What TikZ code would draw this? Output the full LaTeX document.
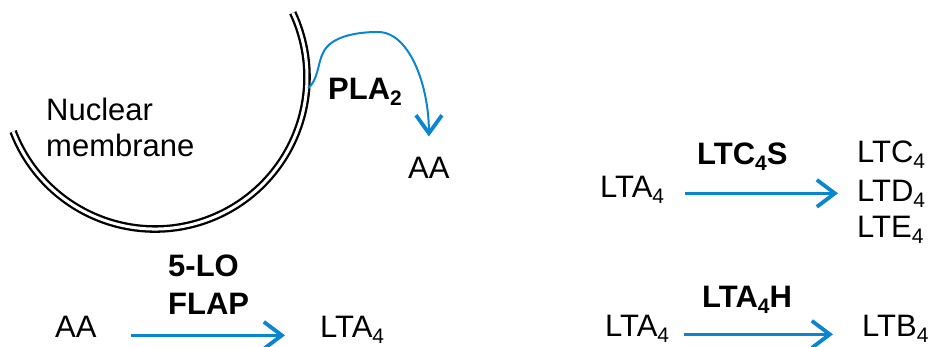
\documentclass[tikz,border=0pt]{standalone}
\usepackage{fontspec}
\setmainfont{Liberation Sans}
\usetikzlibrary{arrows.meta}
\definecolor{arrowblue}{RGB}{10,134,208}
\newcommand{\lsub}[1]{\raisebox{-6pt}{\fontsize{21}{21}\selectfont #1}}
\begin{document}
\begin{tikzpicture}[x=1pt,y=1pt,
  txt/.style={inner sep=0pt,anchor=base west,font=\fontsize{31}{36}\selectfont},
  enz/.style={txt,font=\fontsize{31}{36}\selectfont\bfseries},
  arr/.style={draw=arrowblue,line width=3pt,-{Straight Barb[length=18pt,width=27pt,line width=3.8pt]}},
  curvearr/.style={draw=arrowblue,line width=2pt,-{Straight Barb[length=18pt,width=26pt,line width=3.8pt]}},
  memb/.style={draw=black,line width=2.3pt,double=white,double distance=3pt}]
\useasboundingbox (0,0) rectangle (928,347);
% membrane
\draw[memb] (155,270) ++(201:152) arc[start angle=201,end angle=385,radius=152];
\node[txt] (nuc1) at (46,226) {Nuclear};
\node[txt] (nuc2) at (46,190) {membrane};
% PLA2
\coordinate (mstart) at (308,259);
\node[enz] (pla) at (328,247) {PLA\lsub{2}};
\node[txt] (aa1) at (408,168) {AA};
\draw[curvearr] (mstart) .. controls (318,266) and (318,285) .. (323,294)
  .. controls (330,310) and (355,315) .. (378,315)
  .. controls (410,315) and (429,260) .. ([yshift=21pt]aa1.north);
% bottom left
\node[txt] (aa2) at (55,9) {AA};
\node[txt] (lta1) at (320,9) {LTA\lsub{4}};
\node[enz] (lo) at (168,70) {5-LO};
\node[enz] (flap) at (168,32) {FLAP};
\draw[arr] ([xshift=34pt]aa2.mid east) -- ([xshift=-35pt]aa2.mid east -| lta1.west);
% top right
\node[txt] (lta2) at (600,149) {LTA\lsub{4}};
\node[enz] (ltcs) at (697,182) {LTC\lsub{4}S};
\node[txt] (ltc) at (857,184) {LTC\lsub{4}};
\node[txt] (ltd) at (857,145) {LTD\lsub{4}};
\node[txt] (lte) at (857,109) {LTE\lsub{4}};
\draw[arr] ([xshift=21pt,yshift=2pt]lta2.mid east) -- ([xshift=-19pt,yshift=2pt]lta2.mid east -| ltd.west);
% bottom right
\node[txt] (lta3) at (605,10) {LTA\lsub{4}};
\node[enz] (ltah) at (702,39) {LTA\lsub{4}H};
\node[txt] (ltb) at (862,10) {LTB\lsub{4}};
\draw[arr] ([xshift=15pt]lta3.mid east) -- ([xshift=-29pt]lta3.mid east -| ltb.west);
\end{tikzpicture}
\end{document}
